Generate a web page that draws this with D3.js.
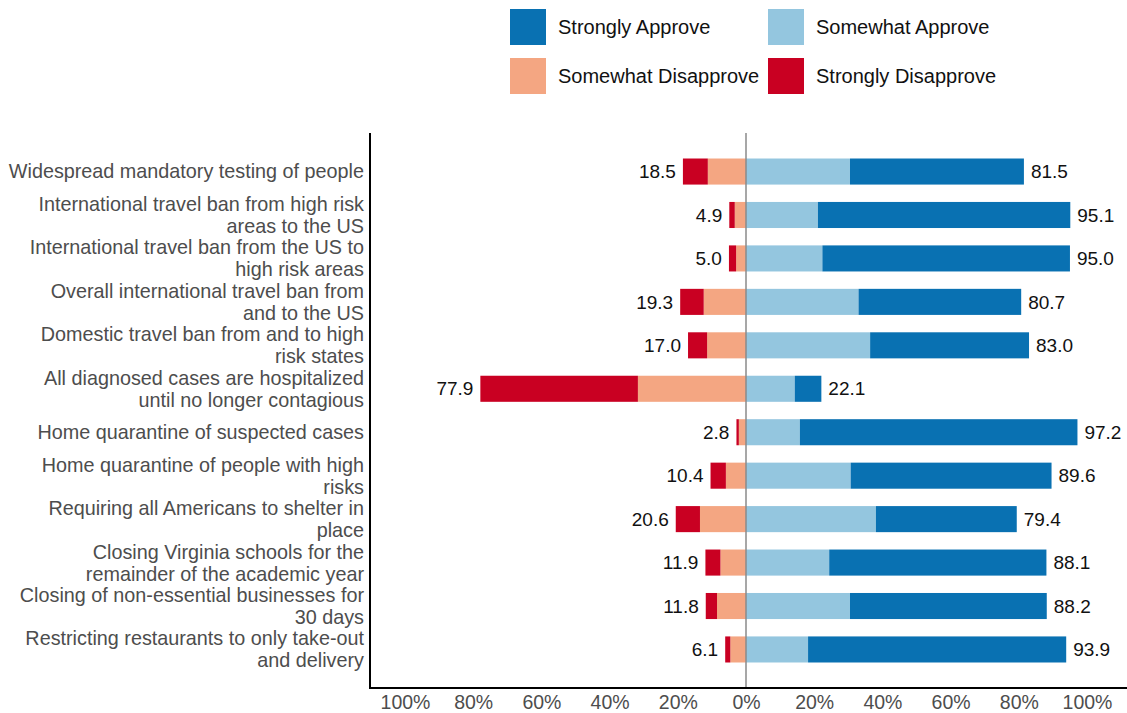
<!DOCTYPE html>
<html><head><meta charset="utf-8">
<script src="https://cdn.jsdelivr.net/npm/d3@7"></script>
<style>body{margin:0;background:#fff}svg{display:block}text{font-family:"Liberation Sans",Arial,sans-serif}</style>
</head><body>
<svg id="c" width="1127" height="713"></svg>
<script>
const categories = [
  "Widespread mandatory testing of people",
  "International travel ban from high risk\nareas to the US",
  "International travel ban from the US to\nhigh risk areas",
  "Overall international travel ban from\nand to the US",
  "Domestic travel ban from and to high\nrisk states",
  "All diagnosed cases are hospitalized\nuntil no longer contagious",
  "Home quarantine of suspected cases",
  "Home quarantine of people with high\nrisks",
  "Requiring all Americans to shelter in\nplace",
  "Closing Virginia schools for the\nremainder of the academic year",
  "Closing of non-essential businesses for\n30 days",
  "Restricting restaurants to only take-out\nand delivery"
];
const stronglyApprove    = [51.0, 74.0, 72.6, 47.7, 46.6, 7.8, 81.4, 58.9, 41.3, 63.7, 57.7, 75.7];
const somewhatApprove    = [30.5, 21.1, 22.4, 33.0, 36.4, 14.3, 15.8, 30.7, 38.1, 24.4, 30.5, 18.2];
const somewhatDisapprove = [11.2, 3.3, 2.9, 12.4, 11.4, 31.7, 2.1, 5.9, 13.5, 7.5, 8.5, 4.6];
const stronglyDisapprove = [7.3, 1.6, 2.1, 6.9, 5.6, 46.2, 0.7, 4.5, 7.1, 4.4, 3.3, 1.5];
const approveTotals    = [81.5, 95.1, 95.0, 80.7, 83.0, 22.1, 97.2, 89.6, 79.4, 88.1, 88.2, 93.9];
const disapproveTotals = [18.5, 4.9, 5.0, 19.3, 17.0, 77.9, 2.8, 10.4, 20.6, 11.9, 11.8, 6.1];
const xTicks = [-100, -80, -60, -40, -20, 0, 20, 40, 60, 80, 100];
const legendItems = ["Strongly Approve", "Somewhat Approve", "Somewhat Disapprove", "Strongly Disapprove"];
const colors = {"Strongly Approve":"#0971b2","Somewhat Approve":"#94c6df","Somewhat Disapprove":"#f4a682","Strongly Disapprove":"#c90022"};

const svg = d3.select("#c");
const pLeft = 370, pRight = 1127, pTop = 133, pBottom = 688;
const x = d3.scaleLinear().domain([-100, 100]).range([405, 1087]);
const y = d3.scaleBand().domain(categories).range([pTop, pBottom]).paddingInner(0.4).paddingOuter(0.587);

const segs = [];
categories.forEach((c, i) => {
  const sd = somewhatDisapprove[i], st = stronglyDisapprove[i];
  const sa = somewhatApprove[i], ta = stronglyApprove[i];
  segs.push({c, k:"Somewhat Disapprove", x0:-sd, x1:0});
  segs.push({c, k:"Strongly Disapprove", x0:-sd-st, x1:-sd});
  segs.push({c, k:"Somewhat Approve", x0:0, x1:sa});
  segs.push({c, k:"Strongly Approve", x0:sa, x1:sa+ta});
});
svg.append("g").selectAll("rect").data(segs).join("rect")
  .attr("x", d => x(d.x0)).attr("width", d => x(d.x1) - x(d.x0))
  .attr("y", d => y(d.c)).attr("height", y.bandwidth())
  .attr("fill", d => colors[d.k]);

// zero line
svg.append("line").attr("x1", x(0)).attr("x2", x(0)).attr("y1", pTop).attr("y2", pBottom)
  .attr("stroke", "#8a8a8a").attr("stroke-width", 1.5);

// value labels
svg.append("g").selectAll("text").data(categories).join("text")
  .attr("x", (c, i) => x(approveTotals[i]) + 7).attr("y", c => y(c) + y.bandwidth()/2)
  .attr("dy", "0.35em").attr("font-size", 19).attr("fill", "#111")
  .text((c, i) => approveTotals[i].toFixed(1));
svg.append("g").selectAll("text").data(categories).join("text")
  .attr("x", (c, i) => x(-disapproveTotals[i]) - 7).attr("y", c => y(c) + y.bandwidth()/2)
  .attr("dy", "0.35em").attr("font-size", 19).attr("fill", "#111").attr("text-anchor", "end")
  .text((c, i) => disapproveTotals[i].toFixed(1));

// axes
const xAxis = svg.append("g").attr("transform", `translate(0,${pBottom})`)
  .call(d3.axisBottom(x).tickValues(xTicks).tickSize(0).tickFormat(d => Math.abs(d) + "%"));
xAxis.select(".domain").remove();
xAxis.selectAll("text").attr("font-size", 19.5).attr("fill", "#4d4d4d").attr("dy", "0.9em")
  .style("font-family", '"Liberation Sans",Arial,sans-serif');
svg.append("line").attr("x1", pLeft).attr("x2", pRight).attr("y1", pBottom).attr("y2", pBottom)
  .attr("stroke", "#000").attr("stroke-width", 2);

const yAxis = svg.append("g").attr("transform", `translate(${pLeft},0)`)
  .call(d3.axisLeft(y).tickSize(0).tickFormat(""));
yAxis.select(".domain").remove();
svg.append("line").attr("x1", pLeft).attr("x2", pLeft).attr("y1", pTop).attr("y2", pBottom + 1)
  .attr("stroke", "#000").attr("stroke-width", 2);
yAxis.selectAll(".tick").each(function(c) {
  const lines = c.split("\n");
  const t = d3.select(this).append("text").attr("x", -6).attr("text-anchor", "end")
    .attr("font-size", 19.8).attr("fill", "#4d4d4d");
  const lh = 22;
  lines.forEach((l, j) => {
    t.append("tspan").attr("x", -6).attr("y", (j - (lines.length - 1) / 2) * lh).attr("dy", "0.35em").text(l);
  });
});

// legend
const lg = svg.append("g");
const lpos = [[510, 9], [768, 9], [510, 58], [768, 58]];
legendItems.forEach((k, i) => {
  const [lx, ly] = lpos[i];
  lg.append("rect").attr("x", lx).attr("y", ly).attr("width", 36).attr("height", 36).attr("fill", colors[k]);
  lg.append("text").attr("x", lx + 48).attr("y", ly + 18).attr("dy", "0.35em")
    .attr("font-size", 20).attr("fill", "#111").text(k);
});
</script>
</body></html>
